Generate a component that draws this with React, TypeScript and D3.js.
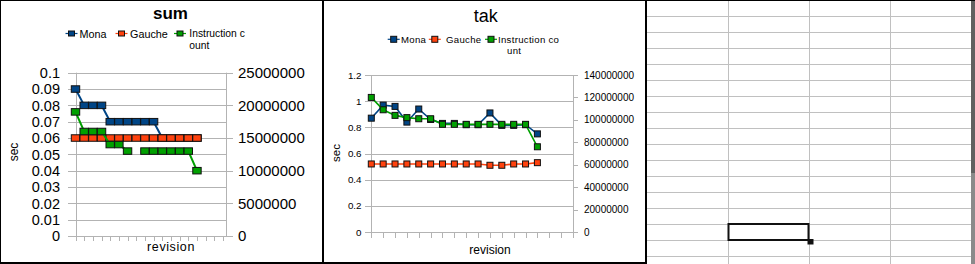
import React from 'react';
import * as d3 from 'd3';

// ---------- data ----------
const REVISIONS: string[] = ['r01','r02','r03','r04','r05','r06','r07','r08','r09','r10','r11','r12','r13','r14','r15','r16','r17','r18'];
const SERIES_NAMES: string[] = ['Mona', 'Gauche', 'Instruction count'];

// chart "sum"
const sumMona: (number | null)[] = [0.09, 0.08, 0.08, 0.08, 0.07, 0.07, 0.07, 0.07, 0.07, 0.07, 0.06, 0.06, 0.06, 0.06, 0.06];
const sumGauche: (number | null)[] = [0.06, 0.06, 0.06, 0.06, 0.06, 0.06, 0.06, 0.06, 0.06, 0.06, 0.06, 0.06, 0.06, 0.06, 0.06];
const sumInstr: (number | null)[] = [19000000, 16000000, 16000000, 16000000, 14000000, 14000000, 13000000, null, 13000000, 13000000, 13000000, 13000000, 13000000, 13000000, 10000000];
const sumLeftTicks: number[] = [0, 0.01, 0.02, 0.03, 0.04, 0.05, 0.06, 0.07, 0.08, 0.09, 0.1];
const sumRightTicks: number[] = [0, 5000000, 10000000, 15000000, 20000000, 25000000];

// chart "tak"
const takMona: (number | null)[] = [0.87, 0.97, 0.96, 0.84, 0.94, 0.86, 0.83, 0.83, 0.82, 0.82, 0.91, 0.815, 0.815, 0.82, 0.75];
const takGauche: (number | null)[] = [0.52, 0.52, 0.52, 0.52, 0.52, 0.52, 0.52, 0.52, 0.52, 0.52, 0.51, 0.51, 0.52, 0.52, 0.53];
const takInstr: (number | null)[] = [120000000, 109000000, 104000000, 102000000, 101000000, 101000000, 96000000, 96000000, 96000000, 96000000, 96000000, 96000000, 96000000, 96000000, 76000000];
const takLeftTicks: number[] = [0, 0.2, 0.4, 0.6, 0.8, 1, 1.2];
const takRightTicks: number[] = [0, 20000000, 40000000, 60000000, 80000000, 100000000, 120000000, 140000000];

// ---------- styles ----------
const W = 975;
const H = 264;
const FONT = '"Liberation Sans", Arial, sans-serif';
const COLORS = ['#004586', '#ff420e', '#00a000'];
const GRID = '#b3b3b3';

type ChartCfg = {
  axisX0: number; axisX1: number; ptX0: number; ptX1: number; top: number; bottom: number;
  leftMax: number; rightMax: number;
  leftTicks: number[]; rightTicks: number[];
  leftLabelX: number; rightLabelX: number; leftFont: number; rightFont: number;
  tickLenL: number; tickLenR: number; tickLenB: number;
  series: (number | null)[][];
  mw: number; mh: number; lw: number;
};

function Plot({ c }: { c: ChartCfg }) {
  const x = d3.scalePoint<string>().domain(REVISIONS).range([c.ptX0, c.ptX1]);
  const yL = d3.scaleLinear().domain([0, c.leftMax]).range([c.bottom, c.top]);
  const yR = d3.scaleLinear().domain([0, c.rightMax]).range([c.bottom, c.top]);
  const fmtL = (v: number) => d3.format('~g')(v);
  const fmtR = (v: number) => String(v);
  return (
    <g>
      {c.leftTicks.map((t, i) => (
        <line key={'g' + i} x1={c.axisX0 - c.tickLenL} x2={c.axisX1} y1={Math.round(yL(t)) + 0.5} y2={Math.round(yL(t)) + 0.5} stroke={GRID} strokeWidth={1} />
      ))}
      {c.rightTicks.map((t, i) => (
        <line key={'rt' + i} x1={c.axisX1} x2={c.axisX1 + c.tickLenR} y1={Math.round(yR(t)) + 0.5} y2={Math.round(yR(t)) + 0.5} stroke={GRID} strokeWidth={1} />
      ))}
      <line x1={c.axisX0 + 0.5} x2={c.axisX0 + 0.5} y1={c.top} y2={c.bottom + 0.5} stroke={GRID} />
      <line x1={c.axisX1 + 0.5} x2={c.axisX1 + 0.5} y1={c.top} y2={c.bottom + 0.5} stroke={GRID} />
      {REVISIONS.map((r, i) => (
        <line key={'b' + i} x1={Math.round(x(r)!) + 0.5} x2={Math.round(x(r)!) + 0.5} y1={c.bottom} y2={c.bottom + c.tickLenB} stroke={GRID} />
      ))}
      {c.leftTicks.map((t, i) => (
        <text key={'lt' + i} x={c.leftLabelX} y={yL(t)} dy="0.36em" textAnchor="end" fontSize={c.leftFont} fontFamily={FONT} fill="#000">{fmtL(t)}</text>
      ))}
      {c.rightTicks.map((t, i) => (
        <text key={'rl' + i} x={c.rightLabelX} y={yR(t)} dy="0.36em" textAnchor="start" fontSize={c.rightFont} fontFamily={FONT} fill="#000">{fmtR(t)}</text>
      ))}
      {c.series.map((vals, si) => {
        const y = si === 2 ? yR : yL;
        const line = d3.line<number | null>()
          .defined((d) => d != null)
          .x((_, i) => x(REVISIONS[i])!)
          .y((d) => y(d as number));
        return (
          <g key={'s' + si}>
            <path d={line(vals) || ''} fill="none" stroke={COLORS[si]} strokeWidth={c.lw} />
            {vals.map((v, i) => v == null ? null : (
              <rect key={i} x={x(REVISIONS[i])! - c.mw / 2} y={y(v) - c.mh / 2} width={c.mw} height={c.mh} fill={COLORS[si]} stroke="#111" strokeWidth={1} />
            ))}
          </g>
        );
      })}
    </g>
  );
}

function LegendItem({ x, y, color, mw, mh }: { x: number; y: number; color: string; mw: number; mh: number }) {
  return (
    <g>
      <line x1={x - 6} x2={x + 6} y1={y} y2={y} stroke={color} strokeWidth={1.2} />
      <rect x={x - mw / 2} y={y - mh / 2} width={mw} height={mh} fill={color} stroke="#111" strokeWidth={1} />
    </g>
  );
}

export default function App() {
  const sumCfg: ChartCfg = {
    axisX0: 76, axisX1: 226, ptX0: 75.5, ptX1: 223, top: 72.7, bottom: 236,
    leftMax: 0.1, rightMax: 25000000, leftTicks: sumLeftTicks, rightTicks: sumRightTicks,
    leftLabelX: 60, rightLabelX: 238, leftFont: 14.5, rightFont: 15,
    tickLenL: 8, tickLenR: 7, tickLenB: 5,
    series: [sumMona, sumGauche, sumInstr], mw: 8.4, mh: 6.5, lw: 2,
  };
  const takCfg: ChartCfg = {
    axisX0: 371, axisX1: 573, ptX0: 371.3, ptX1: 573, top: 75, bottom: 232,
    leftMax: 1.2, rightMax: 140000000, leftTicks: takLeftTicks, rightTicks: takRightTicks,
    leftLabelX: 361.5, rightLabelX: 584, leftFont: 9.8, rightFont: 10,
    tickLenL: 6, tickLenR: 5, tickLenB: 6,
    series: [takMona, takGauche, takInstr], mw: 6, mh: 6, lw: 1.6,
  };
  const rows = d3.range(1, 17).map((k) => Math.round(k * 16.03) + 0.5);
  const cols = [728.5, 809.5, 890.5];
  return (
    <svg width={W} height={H} style={{ position: 'absolute', left: 0, top: 0, background: '#fff' }}>
      <rect x={0} y={0} width={W} height={H} fill="#fff" />
      {/* spreadsheet area */}
      {rows.map((r, i) => <line key={'row' + i} x1={645} x2={971} y1={r} y2={r} stroke="#c0c0c0" />)}
      {cols.map((cx, i) => <line key={'col' + i} x1={cx} x2={cx} y1={0} y2={H} stroke="#c0c0c0" />)}
      <rect x={971} y={0} width={4} height={173} fill="#606060" />
      <rect x={971} y={173} width={4} height={91} fill="#8a8a8a" />
      <rect x={728.5} y={224} width={80} height={16} fill="none" stroke="#111" strokeWidth={2} />
      <rect x={807.5} y={239} width={6} height={5.5} fill="#111" />
      <line x1={0} x2={W} y1={0.5} y2={0.5} stroke="#000" />

      {/* chart 1: sum */}
      <rect x={0} y={0} width={322} height={264} fill="#fff" />
      <text x={170.5} y={19} textAnchor="middle" fontSize={17} fontWeight="bold" fontFamily={FONT}>sum</text>
      <LegendItem x={71.5} y={33.5} color={COLORS[0]} mw={6} mh={5} />
      <text x={79.5} y={38} fontSize={10.8} fontFamily={FONT}>{SERIES_NAMES[0]}</text>
      <LegendItem x={121.5} y={33.5} color={COLORS[1]} mw={6} mh={5} />
      <text x={130} y={38} fontSize={10.8} fontFamily={FONT}>{SERIES_NAMES[1]}</text>
      <LegendItem x={180} y={33.5} color={COLORS[2]} mw={6} mh={5} />
      <text x={189.3} y={37} fontSize={10.3} fontFamily={FONT}>
        <tspan x={189.3} y={37}>Instruction c</tspan>
        <tspan x={189.3} y={48.8}>ount</tspan>
      </text>
      <Plot c={sumCfg} />
      <text transform="translate(18,152) rotate(-90)" textAnchor="middle" fontSize={12} fontFamily={FONT}>sec</text>
      <text x={171} y={251} textAnchor="middle" fontSize={12.5} letterSpacing={0.6} fontFamily={FONT}>revision</text>

      {/* chart 2: tak */}
      <rect x={322} y={0} width={324} height={264} fill="#fff" />
      <text x={485.7} y={21.7} textAnchor="middle" fontSize={18} fontFamily={FONT}>tak</text>
      <LegendItem x={393.7} y={39.3} color={COLORS[0]} mw={6} mh={6} />
      <text x={401} y={42.7} fontSize={9.6} letterSpacing={0.3} fontFamily={FONT}>{SERIES_NAMES[0]}</text>
      <LegendItem x={434.8} y={39.3} color={COLORS[1]} mw={6} mh={6} />
      <text x={446} y={42.7} fontSize={9.6} letterSpacing={0.3} fontFamily={FONT}>{SERIES_NAMES[1]}</text>
      <LegendItem x={491} y={39.3} color={COLORS[2]} mw={6} mh={6} />
      <text x={498} y={42.7} fontSize={9.6} letterSpacing={0.3} fontFamily={FONT}>
        <tspan x={498} y={42.7}>Instruction co</tspan>
        <tspan x={507} y={53.6}>unt</tspan>
      </text>
      <Plot c={takCfg} />
      <text transform="translate(340,153) rotate(-90)" textAnchor="middle" fontSize={11.5} fontFamily={FONT}>sec</text>
      <text x={490} y={253.5} textAnchor="middle" fontSize={12} fontFamily={FONT}>revision</text>

      {/* borders */}
      <line x1={0} x2={646} y1={0.5} y2={0.5} stroke="#000" />
      <line x1={0.5} x2={0.5} y1={0} y2={264} stroke="#000" />
      <line x1={323} x2={323} y1={0} y2={264} stroke="#000" strokeWidth={2} />
      <line x1={646} x2={646} y1={0} y2={264} stroke="#000" strokeWidth={2} />
      <line x1={0} x2={646} y1={263} y2={263} stroke="#000" strokeWidth={2} />
    </svg>
  );
}
